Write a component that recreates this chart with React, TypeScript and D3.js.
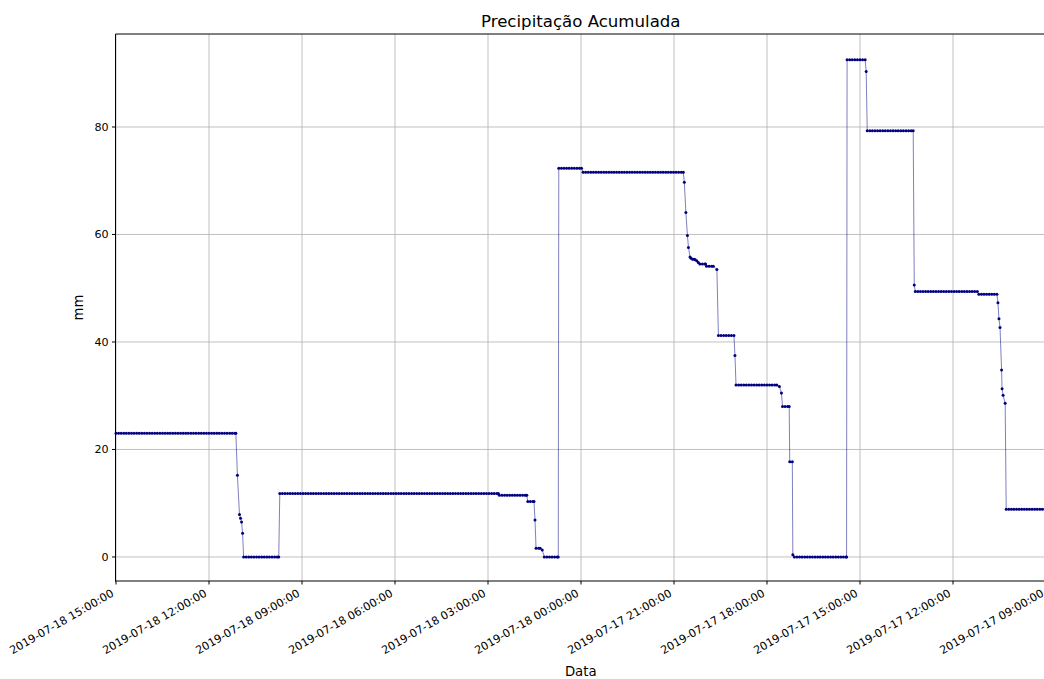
import * as d3 from "d3";
import React, { useEffect, useRef } from "react";

// flat runs of the gauge: [from (later), to (earlier), mm], logged every 5 min
const levels: [string, string, number][] = [
  ["2019-07-18T15:00", "2019-07-18T11:08", 23.0],
  ["2019-07-18T10:53", "2019-07-18T09:45", 0.0],
  ["2019-07-18T09:43", "2019-07-18T02:40", 11.8],
  ["2019-07-18T02:38", "2019-07-18T01:45", 11.5],
  ["2019-07-18T01:43", "2019-07-18T01:31", 10.3],
  ["2019-07-18T01:27", "2019-07-18T01:19", 1.6],
  ["2019-07-18T01:11", "2019-07-18T00:44", 0.0],
  ["2019-07-18T00:43", "2019-07-17T23:59", 72.3],
  ["2019-07-17T23:56", "2019-07-17T20:42", 71.6],
  ["2019-07-17T20:10", "2019-07-17T19:59", 54.5],
  ["2019-07-17T19:57", "2019-07-17T19:44", 54.1],
  ["2019-07-17T19:34", "2019-07-17T19:04", 41.2],
  ["2019-07-17T19:00", "2019-07-17T17:41", 32.0],
  ["2019-07-17T17:30", "2019-07-17T17:17", 28.0],
  ["2019-07-17T17:16", "2019-07-17T17:11", 17.7],
  ["2019-07-17T17:07", "2019-07-17T15:26", 0.0],
  ["2019-07-17T15:25", "2019-07-17T14:50", 92.5],
  ["2019-07-17T14:46", "2019-07-17T13:17", 79.3],
  ["2019-07-17T13:13", "2019-07-17T11:13", 49.4],
  ["2019-07-17T11:10", "2019-07-17T10:35", 48.9],
  ["2019-07-17T10:17", "2019-07-17T09:00", 8.9],
];

// single readings between the runs
const steps: [string, number][] = [
  ["2019-07-18T11:05", 15.2],
  ["2019-07-18T11:01", 7.9],
  ["2019-07-18T10:59", 7.2],
  ["2019-07-18T10:57", 6.5],
  ["2019-07-18T10:55", 4.4],
  ["2019-07-18T01:29", 6.9],
  ["2019-07-18T01:15", 1.3],
  ["2019-07-17T20:40", 69.7],
  ["2019-07-17T20:37", 64.1],
  ["2019-07-17T20:34", 59.8],
  ["2019-07-17T20:32", 57.6],
  ["2019-07-17T20:29", 55.8],
  ["2019-07-17T20:27", 55.6],
  ["2019-07-17T20:24", 55.4],
  ["2019-07-17T20:21", 55.4],
  ["2019-07-17T20:19", 55.3],
  ["2019-07-17T20:16", 55.1],
  ["2019-07-17T20:13", 54.8],
  ["2019-07-17T19:37", 53.5],
  ["2019-07-17T19:02", 37.5],
  ["2019-07-17T17:36", 31.7],
  ["2019-07-17T17:32", 30.5],
  ["2019-07-17T17:10", 0.4],
  ["2019-07-17T14:48", 90.3],
  ["2019-07-17T13:15", 50.6],
  ["2019-07-17T10:33", 47.3],
  ["2019-07-17T10:31", 44.3],
  ["2019-07-17T10:29", 42.7],
  ["2019-07-17T10:26", 34.8],
  ["2019-07-17T10:25", 31.3],
  ["2019-07-17T10:23", 30.1],
  ["2019-07-17T10:19", 28.6],
];

const xFirst = "2019-07-18T15:00";
const xLast = "2019-07-17T09:00";
const yLimits = [-4.47, 97.3];
const yTicks = [0, 20, 40, 60, 80];

const parse = d3.timeParse("%Y-%m-%dT%H:%M");
const fmt = d3.timeFormat("%Y-%m-%d %H:%M:%S");

export default function App() {
  const svgRef = useRef<SVGSVGElement | null>(null);

  useEffect(() => {
    if (!svgRef.current) return;
    const width = 1044;
    const height = 679;
    const left = 115.5;
    const right = 1046;
    const top = 34;
    const bottom = 581;

    const pts: { t: Date; v: number }[] = [];
    levels.forEach(([a, b, v]) => {
      const from = +parse(a)!;
      const to = +parse(b)!;
      let t = from;
      for (; t >= to; t -= 5 * 60000) pts.push({ t: new Date(t), v });
      if (t + 5 * 60000 !== to) pts.push({ t: new Date(to), v });
    });
    steps.forEach(([a, v]) => pts.push({ t: parse(a)!, v }));
    pts.sort((p, q) => +q.t - +p.t);

    const x = d3
      .scaleTime()
      .domain([parse(xFirst)!, parse(xLast)!])
      .range([116, right]);

    const y = d3.scaleLinear().domain(yLimits).range([bottom, top]);

    const svg = d3.select(svgRef.current);
    svg.selectAll("*").remove();
    svg
      .attr("width", width)
      .attr("height", height)
      .style("font-family", "DejaVu Sans, sans-serif");

    svg.append("rect").attr("width", width).attr("height", height).attr("fill", "#fff");

    const xTicks = d3.timeHour.range(parse(xLast)!, new Date(+parse(xFirst)! + 1), 3);

    // grid
    const grid = svg.append("g").attr("stroke", "#b0b0b0").attr("stroke-width", 0.8);
    grid
      .selectAll("line.x")
      .data(xTicks)
      .join("line")
      .attr("x1", (d) => x(d))
      .attr("x2", (d) => x(d))
      .attr("y1", top)
      .attr("y2", bottom);
    grid
      .selectAll("line.y")
      .data(yTicks)
      .join("line")
      .attr("x1", left)
      .attr("x2", right)
      .attr("y1", (d) => y(d))
      .attr("y2", (d) => y(d));

    // series
    const line = d3
      .line<{ t: Date; v: number }>()
      .x((d) => x(d.t))
      .y((d) => y(d.v));
    svg
      .append("path")
      .datum(pts)
      .attr("d", line)
      .attr("fill", "none")
      .attr("stroke", "#000080")
      .attr("stroke-opacity", 0.5)
      .attr("stroke-width", 1);
    svg
      .append("g")
      .attr("fill", "#000080")
      .selectAll("circle")
      .data(pts)
      .join("circle")
      .attr("cx", (d) => x(d.t))
      .attr("cy", (d) => y(d.v))
      .attr("r", 1.5);

    // spines
    const sp = svg.append("g").attr("stroke", "#000").attr("stroke-width", 1).attr("fill", "none");
    sp.append("line").attr("x1", left).attr("x2", left).attr("y1", top).attr("y2", bottom + 0.5);
    sp.append("line").attr("x1", left).attr("x2", right).attr("y1", top).attr("y2", top);
    sp.append("line").attr("x1", left).attr("x2", right).attr("y1", bottom).attr("y2", bottom);

    // x ticks
    const xg = svg.append("g");
    xg.selectAll("line")
      .data(xTicks)
      .join("line")
      .attr("x1", (d) => x(d))
      .attr("x2", (d) => x(d))
      .attr("y1", bottom)
      .attr("y2", bottom + 3.5)
      .attr("stroke", "#000");
    xg.selectAll("text")
      .data(xTicks)
      .join("text")
      .attr("transform", (d) => `translate(${x(d) - 1.5},${bottom + 14.5}) rotate(-30)`)
      .attr("text-anchor", "end")
      .attr("font-size", 11.1)
      .attr("fill", "#000")
      .text((d) => fmt(d));

    // y ticks
    const yg = svg.append("g");
    yg.selectAll("line")
      .data(yTicks)
      .join("line")
      .attr("x1", left - 3.5)
      .attr("x2", left)
      .attr("y1", (d) => y(d))
      .attr("y2", (d) => y(d))
      .attr("stroke", "#000");
    yg.selectAll("text")
      .data(yTicks)
      .join("text")
      .attr("x", left - 7)
      .attr("y", (d) => y(d))
      .attr("dy", "0.35em")
      .attr("text-anchor", "end")
      .attr("font-size", 11.1)
      .attr("fill", "#000")
      .text((d) => d);

    // labels
    svg
      .append("text")
      .attr("x", (left + right) / 2)
      .attr("y", 27)
      .attr("text-anchor", "middle")
      .attr("font-size", 16.6)
      .text("Precipitação Acumulada");
    svg
      .append("text")
      .attr("x", (left + right) / 2)
      .attr("y", 676)
      .attr("text-anchor", "middle")
      .attr("font-size", 13.3)
      .text("Data");
    svg
      .append("text")
      .attr("transform", `translate(83,${(top + bottom) / 2}) rotate(-90)`)
      .attr("text-anchor", "middle")
      .attr("font-size", 13.3)
      .text("mm");
  }, []);

  return (
    <svg
      ref={svgRef}
      style={{ position: "absolute", left: 0, top: 0, display: "block" }}
    ></svg>
  );
}
